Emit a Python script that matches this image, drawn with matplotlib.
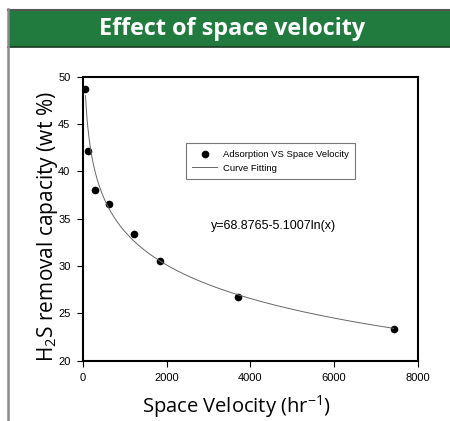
import matplotlib.pyplot as plt
import numpy as np
from matplotlib.patches import Rectangle
from matplotlib.lines import Line2D

# measured adsorption data
space_velocity = [50, 125, 280, 630, 1220, 1845, 3705, 7425]
capacity = [48.7, 42.2, 38.0, 36.6, 33.4, 30.5, 26.7, 23.4]

# logarithmic fit  y = a - b ln(x)
fit_a = 68.8765
fit_b = 5.1007
fit_x_range = [60, 7425]

x_ticks = [0, 2000, 4000, 6000, 8000]
y_ticks = [20, 25, 30, 35, 40, 45, 50]

W, H = 450, 421
fig = plt.figure(figsize=(W / 100, H / 100), dpi=100)
fig.patch.set_facecolor('white')

# header band
fig.patches.append(Rectangle((8 / W, 1 - 47 / H), 1, 38 / H, transform=fig.transFigure,
                             facecolor='#217a3e', edgecolor='none', zorder=0))
fig.lines.append(Line2D([8 / W, 1], [1 - 9.5 / H, 1 - 9.5 / H], transform=fig.transFigure,
                        color='#555555', lw=1.5))
fig.lines.append(Line2D([8 / W, 1], [1 - 47 / H, 1 - 47 / H], transform=fig.transFigure,
                        color='#1b3a24', lw=1.2))
fig.lines.append(Line2D([7.5 / W, 7.5 / W], [0, 1 - 9 / H], transform=fig.transFigure,
                        color='#8a8a8a', lw=1.8))
fig.text(232 / W, 1 - 29 / H, 'Effect of space velocity', color='white',
         fontsize=16.8, fontweight='bold', family='Open Sans', ha='center', va='center')

ax = fig.add_axes([83 / W, 1 - 360.7 / H, 334.7 / W, 284 / H])

ax.plot(space_velocity, capacity, 'o', color='black', ms=4.5,
        label='Adsorption VS Space Velocity')
xf = np.linspace(fit_x_range[0], fit_x_range[1], 400)
ax.plot(xf, fit_a - fit_b * np.log(xf), color='#666666', lw=0.7, label='Curve Fitting')

ax.set_xlim(0, 8000)
ax.set_ylim(20, 50)
ax.set_xticks(x_ticks)
ax.set_yticks(y_ticks)
for lbl in ax.get_xticklabels() + ax.get_yticklabels():
    lbl.set_family('Liberation Sans')
    lbl.set_fontsize(8)
ax.tick_params(direction='out', length=4, width=0.8, pad=5)
for side in ['left', 'bottom', 'top', 'right']:
    ax.spines[side].set_linewidth(1.5)

ax.text(4565, 34.2, 'y=%.4f-%.4fln(x)' % (fit_a, fit_b), family='Liberation Sans',
        fontsize=9, ha='center', va='center')

leg = ax.legend(loc='upper left', bbox_to_anchor=(98 / 334.7, 1 - 62 / 284),
                prop={'family': 'Liberation Sans', 'size': 6.8}, frameon=True,
                fancybox=False, edgecolor='#555555', borderpad=0.7, handlelength=2.6,
                handletextpad=0.6, labelspacing=0.5)
leg.get_frame().set_linewidth(0.8)

ax.set_xlabel('Space Velocity (hr$^{\\mathregular{-1}}$)', family='Open Sans', fontsize=14.5,
              labelpad=7)
ax.set_ylabel('H$_{\\mathregular{2}}$S removal capacity (wt %)', family='Open Sans',
              fontsize=15, labelpad=-1)
ax.xaxis.label.set_x(0.46)
ax.yaxis.label.set_y(0.4725)

fig.savefig('out.png', dpi=100)
